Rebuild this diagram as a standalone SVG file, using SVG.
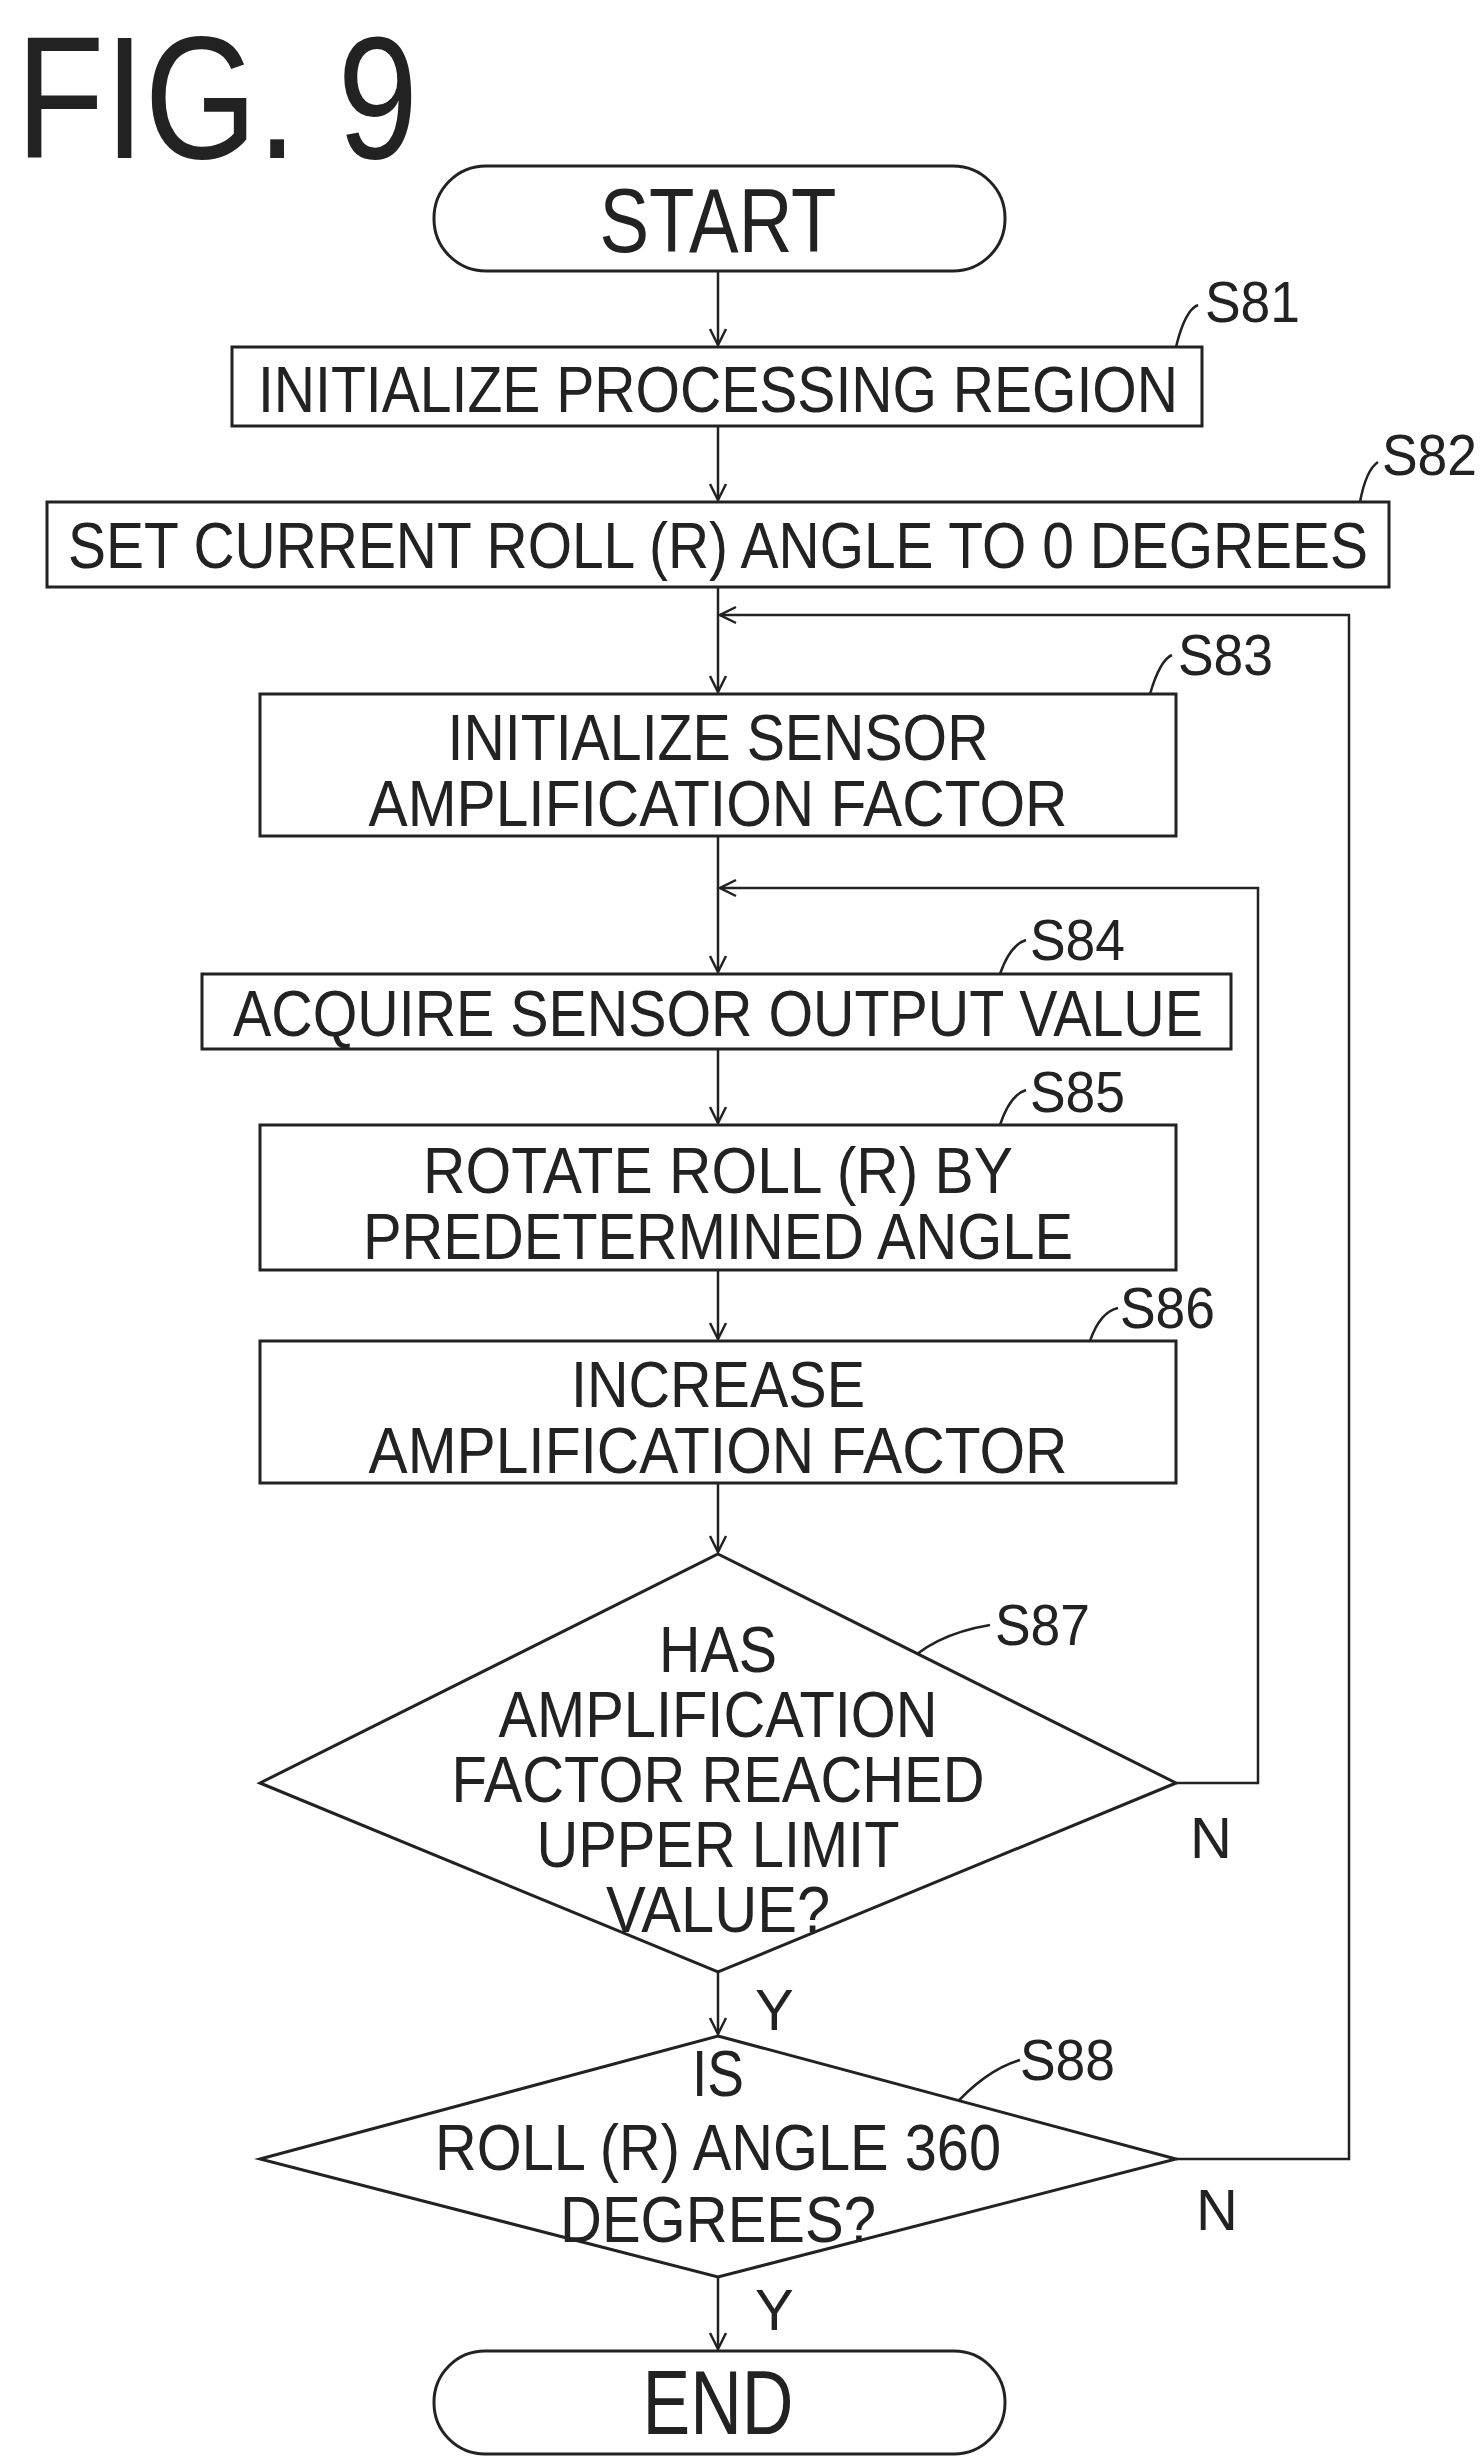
<svg xmlns="http://www.w3.org/2000/svg" width="1483" height="2464" viewBox="0 0 1483 2464">
<style>
.b{fill:#fff;stroke:#222;stroke-width:3}
.t{font-family:"Liberation Sans",sans-serif;font-size:64px;fill:#222;text-anchor:middle}
.l{font-family:"Liberation Sans",sans-serif;font-size:58px;fill:#222}
.c{fill:none;stroke:#222;stroke-width:2.5}
</style>
<defs><marker id="a" markerWidth="20" markerHeight="20" refX="18" refY="10" orient="auto" markerUnits="userSpaceOnUse"><path d="M2,2 L18,10 L2,18" fill="none" stroke="#222" stroke-width="2.5"/></marker></defs>
<text x="16" y="158" textLength="402" lengthAdjust="spacingAndGlyphs" style="font-family:'Liberation Sans',sans-serif;font-size:175px;fill:#222">FIG. 9</text>
<g id="connectors">
<path class="c" d="M718,271 V345" marker-end="url(#a)"/>
<path class="c" d="M718,426 V500" marker-end="url(#a)"/>
<path class="c" d="M718,587 V692" marker-end="url(#a)"/>
<path class="c" d="M718,836 V972" marker-end="url(#a)"/>
<path class="c" d="M718,1049 V1123" marker-end="url(#a)"/>
<path class="c" d="M718,1270 V1339" marker-end="url(#a)"/>
<path class="c" d="M718,1483 V1552" marker-end="url(#a)"/>
<path class="c" d="M718,1972 V2034" marker-end="url(#a)"/>
<path class="c" d="M718,2277 V2349" marker-end="url(#a)"/>
<path class="c" d="M1176,1783 H1258 V888 H720" marker-end="url(#a)"/>
<path class="c" d="M1176,2159 H1349 V615 H720" marker-end="url(#a)"/>
<path class="c" d="M1176,347 Q1185,310 1198,305"/>
<path class="c" d="M1360,502 Q1366,470 1378,462"/>
<path class="c" d="M1150,694 Q1160,660 1172,655"/>
<path class="c" d="M1000,974 Q1010,945 1026,940"/>
<path class="c" d="M1000,1125 Q1010,1095 1026,1090"/>
<path class="c" d="M1090,1341 Q1100,1312 1118,1308"/>
<path class="c" d="M900,1670 Q930,1635 990,1625"/>
<path class="c" d="M950,2110 Q985,2070 1020,2060"/>
</g>
<g id="start"><rect class="b" x="434" y="166" width="571" height="105" rx="52"/><text class="t" x="718" y="252" textLength="237" lengthAdjust="spacingAndGlyphs" style="font-size:90px">START</text></g>
<g id="s81"><rect class="b" x="232" y="347" width="970" height="79"/><text class="t" x="718" y="412" textLength="920" lengthAdjust="spacingAndGlyphs">INITIALIZE PROCESSING REGION</text><text class="l" x="1205" y="322" textLength="95" lengthAdjust="spacingAndGlyphs">S81</text></g>
<g id="s82"><rect class="b" x="47" y="502" width="1342" height="85"/><text class="t" x="718" y="568" textLength="1300" lengthAdjust="spacingAndGlyphs">SET CURRENT ROLL (R) ANGLE TO 0 DEGREES</text><text class="l" x="1382" y="475" textLength="95" lengthAdjust="spacingAndGlyphs">S82</text></g>
<g id="s83"><rect class="b" x="260" y="694" width="916" height="142"/><text class="t" x="718" y="760" textLength="541" lengthAdjust="spacingAndGlyphs">INITIALIZE SENSOR</text><text class="t" x="718" y="826" textLength="699" lengthAdjust="spacingAndGlyphs">AMPLIFICATION FACTOR</text><text class="l" x="1178" y="675" textLength="95" lengthAdjust="spacingAndGlyphs">S83</text></g>
<g id="s84"><rect class="b" x="202" y="974" width="1029" height="75"/><text class="t" x="718" y="1036" textLength="970" lengthAdjust="spacingAndGlyphs">ACQUIRE SENSOR OUTPUT VALUE</text><text class="l" x="1030" y="960" textLength="95" lengthAdjust="spacingAndGlyphs">S84</text></g>
<g id="s85"><rect class="b" x="260" y="1125" width="916" height="145"/><text class="t" x="718" y="1193" textLength="590" lengthAdjust="spacingAndGlyphs">ROTATE ROLL (R) BY</text><text class="t" x="718" y="1259" textLength="710" lengthAdjust="spacingAndGlyphs">PREDETERMINED ANGLE</text><text class="l" x="1030" y="1112" textLength="95" lengthAdjust="spacingAndGlyphs">S85</text></g>
<g id="s86"><rect class="b" x="260" y="1341" width="916" height="142"/><text class="t" x="718" y="1407" textLength="294" lengthAdjust="spacingAndGlyphs">INCREASE</text><text class="t" x="718" y="1473" textLength="699" lengthAdjust="spacingAndGlyphs">AMPLIFICATION FACTOR</text><text class="l" x="1120" y="1328" textLength="95" lengthAdjust="spacingAndGlyphs">S86</text></g>
<g id="s87"><polygon class="b" points="718,1554 1176,1783 718,1972 260,1783"/><text class="t" x="718" y="1672" textLength="118" lengthAdjust="spacingAndGlyphs">HAS</text><text class="t" x="718" y="1737" textLength="439" lengthAdjust="spacingAndGlyphs">AMPLIFICATION</text><text class="t" x="718" y="1802" textLength="533" lengthAdjust="spacingAndGlyphs">FACTOR REACHED</text><text class="t" x="718" y="1867" textLength="363" lengthAdjust="spacingAndGlyphs">UPPER LIMIT</text><text class="t" x="718" y="1932" textLength="224" lengthAdjust="spacingAndGlyphs">VALUE?</text><text class="l" x="995" y="1645" textLength="95" lengthAdjust="spacingAndGlyphs">S87</text><text class="l" x="1190" y="1858">N</text><text class="l" x="755" y="2030">Y</text></g>
<g id="s88"><polygon class="b" points="718,2036 1176,2159 718,2277 260,2159"/><text class="t" x="718" y="2096" textLength="52" lengthAdjust="spacingAndGlyphs">IS</text><text class="t" x="718" y="2170" textLength="566" lengthAdjust="spacingAndGlyphs">ROLL (R) ANGLE 360</text><text class="t" x="718" y="2242" textLength="316" lengthAdjust="spacingAndGlyphs">DEGREES?</text><text class="l" x="1020" y="2080" textLength="95" lengthAdjust="spacingAndGlyphs">S88</text><text class="l" x="1196" y="2230">N</text><text class="l" x="755" y="2330">Y</text></g>
<g id="end"><rect class="b" x="434" y="2351" width="571" height="103" rx="51"/><text class="t" x="718" y="2434" textLength="151" lengthAdjust="spacingAndGlyphs" style="font-size:90px">END</text></g>
</svg>
